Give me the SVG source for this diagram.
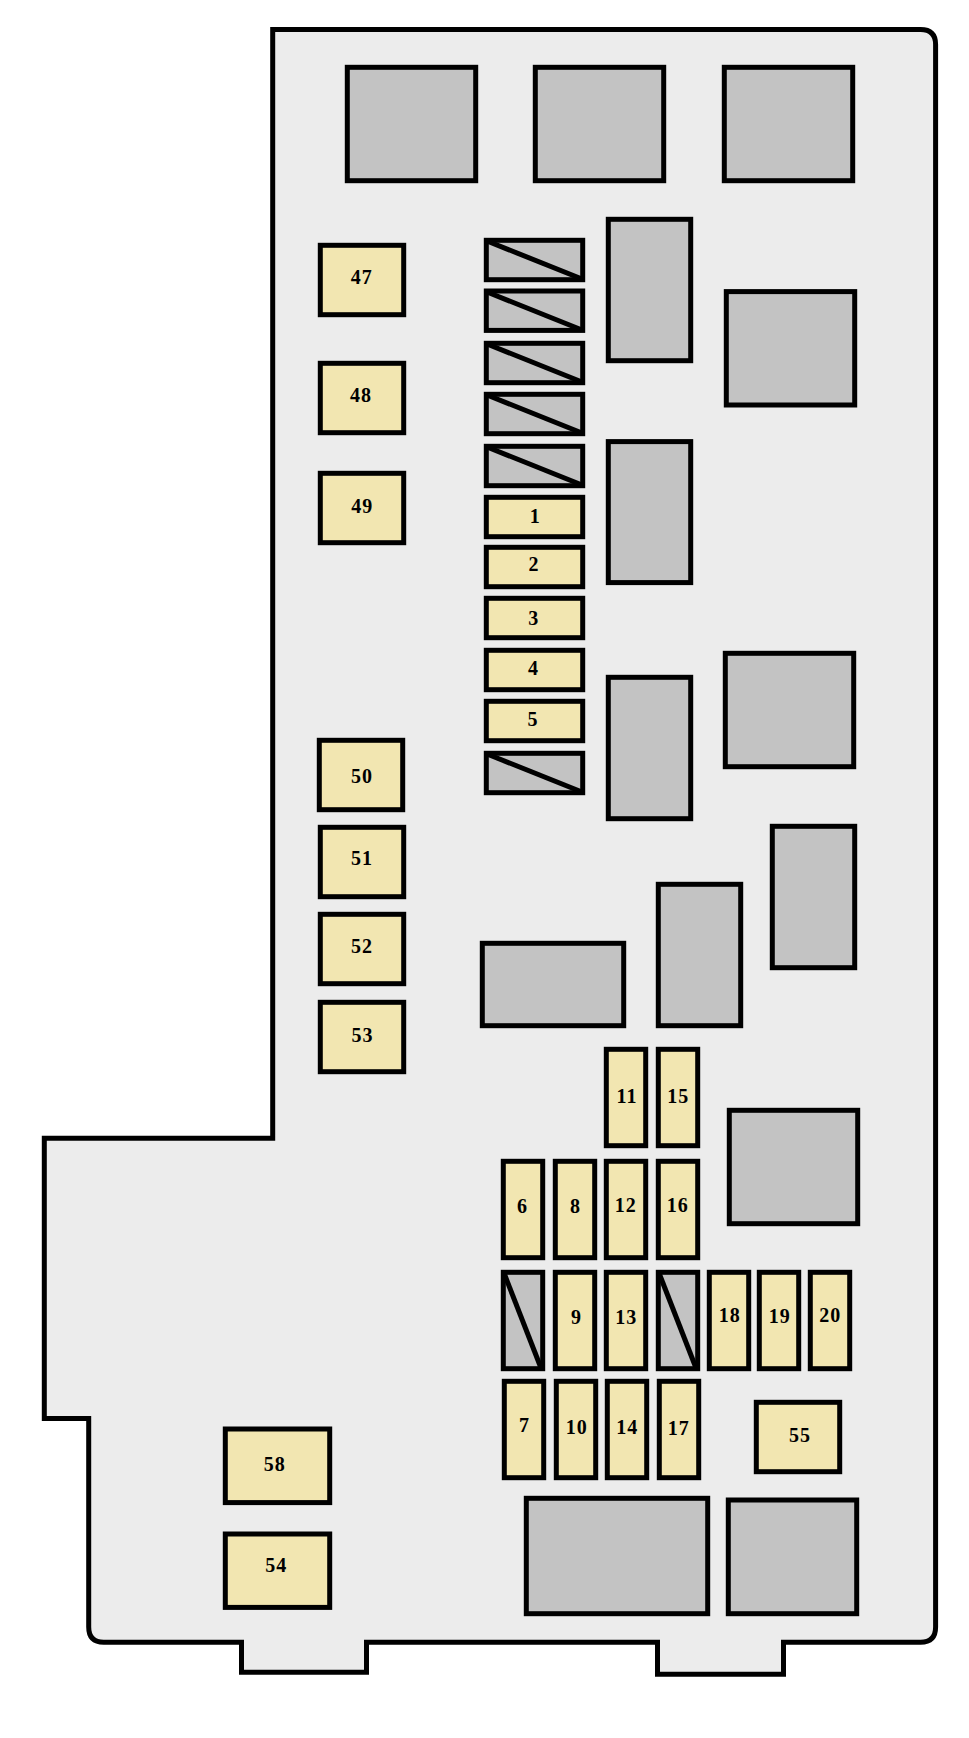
<svg xmlns="http://www.w3.org/2000/svg" width="969" height="1738" viewBox="0 0 969 1738">
<style>
rect,path,line{stroke:#000;stroke-width:5}
.body{fill:#ececec;stroke-linejoin:miter}
.r{fill:#c3c3c3}
.f{fill:#f2e6b1}
text{font-family:"Liberation Serif","Times New Roman",serif;font-weight:bold;font-size:20px;letter-spacing:1px;fill:#000;text-anchor:middle}
</style>
<rect width="969" height="1738" style="fill:#fff;stroke:none"/>
<path id="housing" class="body" d="M272.7 29.6H920.6Q935.6 29.6 935.6 44.6V1627Q935.6 1642.2 920.6 1642.2H783.5V1674.3H657.5V1642.2H366.5V1672.3H241.5V1642.2H103.7Q88.7 1642.2 88.7 1627V1418.4H44.3V1138.2H272.7Z"/>
<g id="relays">
<rect id="relay-1" class="r" x="347.3" y="67.3" width="128.4" height="113.4"/>
<rect id="relay-2" class="r" x="535.3" y="67.3" width="128.4" height="113.4"/>
<rect id="relay-3" class="r" x="724.3" y="67.3" width="128.4" height="113.4"/>
<rect id="relay-4" class="r" x="608.3" y="219.3" width="82.4" height="141.4"/>
<rect id="relay-5" class="r" x="726.3" y="291.6" width="128.4" height="113.4"/>
<rect id="relay-6" class="r" x="608.3" y="441.6" width="82.4" height="141"/>
<rect id="relay-7" class="r" x="608.3" y="677.3" width="82.4" height="141.4"/>
<rect id="relay-8" class="r" x="725.3" y="653.3" width="128.4" height="113.4"/>
<rect id="relay-9" class="r" x="772.3" y="826.3" width="82.4" height="141.4"/>
<rect id="relay-10" class="r" x="658.3" y="884.3" width="82.4" height="141.4"/>
<rect id="relay-11" class="r" x="482.3" y="943.3" width="141.4" height="82.4"/>
<rect id="relay-12" class="r" x="729.3" y="1110.3" width="128.4" height="113.4"/>
<rect id="relay-13" class="r" x="526.3" y="1498.3" width="181.4" height="115.4"/>
<rect id="relay-14" class="r" x="728.3" y="1500" width="128.4" height="113.7"/>
</g>
<g id="blocked">
<g id="blank-1"><rect class="r" x="486.3" y="240.3" width="96.4" height="39.4"/><line x1="487" y1="241" x2="582" y2="279"/></g>
<g id="blank-2"><rect class="r" x="486.3" y="291" width="96.4" height="39.4"/><line x1="487" y1="292" x2="582" y2="330"/></g>
<g id="blank-3"><rect class="r" x="486.3" y="343.3" width="96.4" height="39.4"/><line x1="487" y1="344" x2="582" y2="382"/></g>
<g id="blank-4"><rect class="r" x="486.3" y="394.3" width="96.4" height="39.4"/><line x1="487" y1="395" x2="582" y2="433"/></g>
<g id="blank-5"><rect class="r" x="486.3" y="446.3" width="96.4" height="39.4"/><line x1="487" y1="447" x2="582" y2="485"/></g>
<g id="blank-6"><rect class="r" x="486.3" y="753.3" width="96.4" height="39.4"/><line x1="487" y1="754" x2="582" y2="792"/></g>
<g id="blank-7"><rect class="r" x="503.3" y="1272.3" width="39.4" height="96.4"/><line x1="504" y1="1273" x2="541" y2="1368"/></g>
<g id="blank-8"><rect class="r" x="658.3" y="1272.3" width="39.4" height="96.4"/><line x1="659" y1="1273" x2="696" y2="1368"/></g>
</g>
<g id="fuse-47"><rect class="f" x="320.3" y="245.3" width="83.4" height="69.4"/><text x="361.8" y="284">47</text></g>
<g id="fuse-48"><rect class="f" x="320.3" y="363.3" width="83.4" height="69.4"/><text x="361" y="402">48</text></g>
<g id="fuse-49"><rect class="f" x="320.3" y="473.3" width="83.4" height="69.4"/><text x="362.3" y="512.6">49</text></g>
<g id="fuse-50"><rect class="f" x="319.3" y="740.3" width="83.4" height="69.4"/><text x="361.9" y="782.5">50</text></g>
<g id="fuse-51"><rect class="f" x="320.3" y="827.3" width="83.4" height="69.4"/><text x="361.9" y="864.8">51</text></g>
<g id="fuse-52"><rect class="f" x="320.3" y="914.3" width="83.4" height="69.4"/><text x="362" y="952.8">52</text></g>
<g id="fuse-53"><rect class="f" x="320.3" y="1002.3" width="83.4" height="69.4"/><text x="362.5" y="1041.6">53</text></g>
<g id="fuse-1"><rect class="f" x="486.3" y="497.3" width="96.4" height="39.4"/><text x="535.2" y="522.6">1</text></g>
<g id="fuse-2"><rect class="f" x="486.3" y="547.3" width="96.4" height="39.4"/><text x="534" y="570.8">2</text></g>
<g id="fuse-3"><rect class="f" x="486.3" y="598.3" width="96.4" height="39.4"/><text x="533.8" y="624.6">3</text></g>
<g id="fuse-4"><rect class="f" x="486.3" y="650.3" width="96.4" height="39.4"/><text x="533.4" y="674.8">4</text></g>
<g id="fuse-5"><rect class="f" x="486.3" y="701.3" width="96.4" height="39.4"/><text x="533" y="726">5</text></g>
<g id="fuse-11"><rect class="f" x="606.3" y="1049.3" width="39.4" height="96.4"/><text x="627" y="1102.8">11</text></g>
<g id="fuse-15"><rect class="f" x="658.3" y="1049.3" width="39.4" height="96.4"/><text x="678.3" y="1102.8">15</text></g>
<g id="fuse-6"><rect class="f" x="503.3" y="1161.3" width="39.4" height="96.4"/><text x="522.5" y="1212.5">6</text></g>
<g id="fuse-8"><rect class="f" x="555.3" y="1161.3" width="39.4" height="96.4"/><text x="575.5" y="1212.5">8</text></g>
<g id="fuse-12"><rect class="f" x="606.3" y="1161.3" width="39.4" height="96.4"/><text x="625.7" y="1212">12</text></g>
<g id="fuse-16"><rect class="f" x="658.3" y="1161.3" width="39.4" height="96.4"/><text x="677.7" y="1212">16</text></g>
<g id="fuse-9"><rect class="f" x="555.3" y="1272.3" width="39.4" height="96.4"/><text x="576.5" y="1324">9</text></g>
<g id="fuse-13"><rect class="f" x="606.3" y="1272.3" width="39.4" height="96.4"/><text x="626.3" y="1324">13</text></g>
<g id="fuse-18"><rect class="f" x="709.3" y="1272.3" width="39.4" height="96.4"/><text x="729.7" y="1322">18</text></g>
<g id="fuse-19"><rect class="f" x="759.3" y="1272.3" width="39.4" height="96.4"/><text x="779.7" y="1322.6">19</text></g>
<g id="fuse-20"><rect class="f" x="810.3" y="1272.3" width="39.4" height="96.4"/><text x="830.3" y="1322">20</text></g>
<g id="fuse-7"><rect class="f" x="504.3" y="1381.3" width="39.4" height="96.4"/><text x="524.5" y="1431.6">7</text></g>
<g id="fuse-10"><rect class="f" x="556.3" y="1381.3" width="39.4" height="96.4"/><text x="576.7" y="1433.6">10</text></g>
<g id="fuse-14"><rect class="f" x="607.3" y="1381.3" width="39.4" height="96.4"/><text x="627.3" y="1434">14</text></g>
<g id="fuse-17"><rect class="f" x="659.3" y="1381.3" width="39.4" height="96.4"/><text x="678.7" y="1434.6">17</text></g>
<g id="fuse-55"><rect class="f" x="756.3" y="1402.3" width="83.4" height="69.4"/><text x="800" y="1441.6">55</text></g>
<g id="fuse-58"><rect class="f" x="225.3" y="1429" width="104.4" height="73.6"/><text x="274.7" y="1470.6">58</text></g>
<g id="fuse-54"><rect class="f" x="225.3" y="1534" width="104.4" height="73.4"/><text x="276.3" y="1572.3">54</text></g>
</svg>
